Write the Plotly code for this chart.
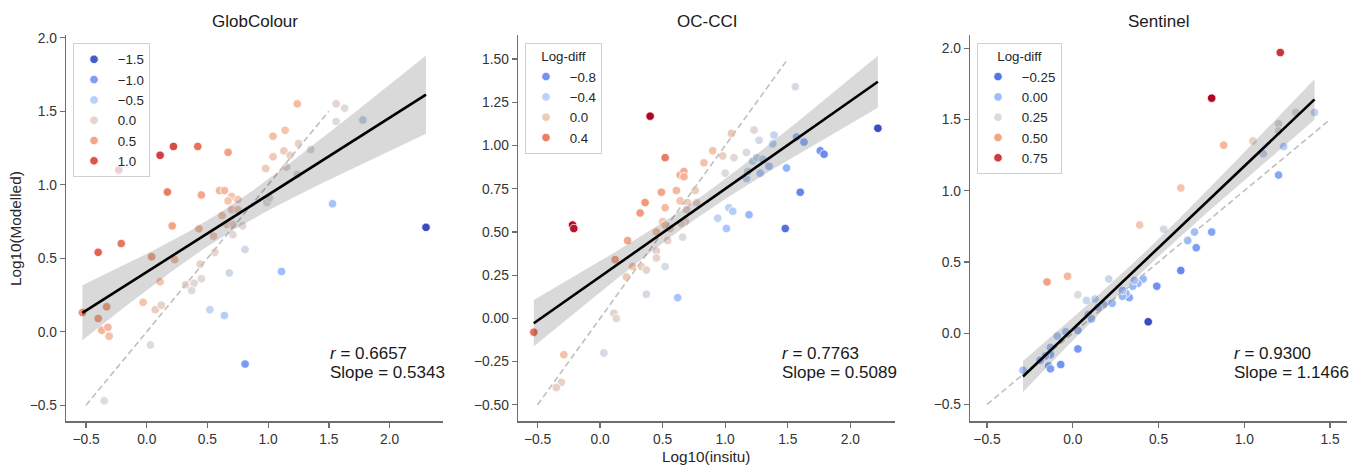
import numpy as np
import plotly.graph_objects as go
from plotly.colors import sample_colorscale

# ---------------- data (log10 values) ----------------
glob_x = [2.30, -0.23, -0.40, -0.21, 0.11, 0.22, 0.42, 0.67, 0.17, 0.45, 0.21, 0.04, 0.23, 0.11,
          -0.03, 0.07, 0.12, -0.53, -0.33, -0.40, -0.37, -0.32, -0.31, 0.03, -0.35, 0.81, 0.52,
          0.64, 0.68, 0.81, 1.11, 1.53, 1.78, 1.56, 1.63, 1.56, 1.24, 1.14, 1.04, 1.13, 1.25, 1.04,
          1.18, 1.15, 1.35, 0.98, 1.24, 0.99, 1.01, 0.60, 0.64, 0.70, 0.67, 0.75, 0.70, 0.75, 0.62,
          0.66, 0.71, 0.79, 0.71, 0.43, 0.55, 0.56, 0.44, 0.32, 0.39, 0.45, 0.37]
glob_y = [0.71, 1.10, 0.54, 0.60, 1.20, 1.26, 1.26, 1.22, 0.95, 0.93, 0.72, 0.51, 0.49, 0.34,
          0.20, 0.15, 0.18, 0.13, 0.17, 0.09, 0.01, 0.03, -0.03, -0.09, -0.47, -0.22, 0.15,
          0.11, 0.40, 0.56, 0.41, 0.87, 1.44, 1.55, 1.52, 1.43, 1.55, 1.37, 1.33, 1.23, 1.28, 1.19,
          1.20, 1.12, 1.24, 1.11, 1.07, 0.88, 0.91, 0.96, 0.96, 0.92, 0.89, 0.90, 0.83, 0.83, 0.79,
          0.73, 0.73, 0.72, 0.66, 0.70, 0.65, 0.54, 0.46, 0.32, 0.33, 0.36, 0.28]

occci_x = [2.22, 0.40, -0.22, -0.21, -0.53, -0.29, -0.31, -0.35, 0.03, 0.11, 0.13, 0.37, 0.62,
           0.52, 0.21, 0.26, 0.33, 0.37, 0.12, 0.22, 0.45, 0.45, 0.45, 0.54, 0.50, 0.52, 0.56,
           0.66, 0.68, 0.65, 0.32, 0.36, 0.49, 0.52, 0.61, 0.64, 0.70, 0.69, 0.76, 0.77, 0.64,
           0.67, 0.67, 0.52, 0.83, 0.90, 0.98, 1.05, 1.07, 1.00, 1.23, 1.56, 1.27, 1.39, 1.17,
           1.22, 1.25, 1.30, 1.17, 1.18, 1.28, 1.35, 1.38, 1.57, 1.63, 1.76, 1.79, 1.49, 1.60,
           1.48, 1.19, 1.03, 1.06, 1.01, 0.94]
occci_y = [1.10, 1.17, 0.54, 0.52, -0.08, -0.21, -0.37, -0.40, -0.20, 0.03, 0.00, 0.14, 0.12,
           0.30, 0.24, 0.30, 0.30, 0.28, 0.34, 0.45, 0.39, 0.35, 0.50, 0.45, 0.56, 0.54, 0.52,
           0.47, 0.56, 0.55, 0.61, 0.67, 0.73, 0.64, 0.74, 0.68, 0.67, 0.63, 0.74, 0.67, 0.83,
           0.85, 0.82, 0.93, 0.90, 0.97, 0.94, 1.07, 0.93, 0.84, 1.09, 1.34, 1.03, 1.06, 0.96,
           0.91, 0.93, 0.92, 0.81, 0.85, 0.84, 0.88, 1.01, 1.05, 1.02, 0.97, 0.95, 0.87, 0.73,
           0.52, 0.60, 0.64, 0.62, 0.52, 0.58]

sent_x = [1.21, 0.81, 0.88, 1.05, 0.63, 0.39, -0.15, -0.03, 0.03, 0.08, 0.13, 0.21, 0.53, 0.44,
          0.49, 0.63, 0.72, 0.67, 0.71, 0.81, 1.20, 1.23, 1.11, 1.20, 1.20, 1.30, 1.41, 0.41,
          0.38, 0.35, 0.36, 0.33, 0.31, 0.29, 0.29, 0.23, 0.18, 0.15, 0.09, 0.11, 0.03, -0.04,
          -0.09, 0.03, -0.07, -0.13, -0.13, -0.16, -0.19, -0.14, -0.13, -0.29]
sent_y = [1.97, 1.65, 1.32, 1.35, 1.02, 0.76, 0.36, 0.40, 0.27, 0.23, 0.24, 0.38, 0.73, 0.08,
          0.33, 0.44, 0.60, 0.65, 0.71, 0.71, 1.11, 1.31, 1.26, 1.47, 1.42, 1.55, 1.55, 0.38,
          0.35, 0.33, 0.37, 0.25, 0.28, 0.26, 0.30, 0.21, 0.20, 0.18, 0.13, 0.10, 0.02, 0.01,
          -0.02, -0.11, -0.22, -0.10, -0.15, -0.16, -0.19, -0.23, -0.25, -0.26]

panel_titles = ["GlobColour", "OC-CCI", "Sentinel"]
stat_r = ["0.6657", "0.7763", "0.9300"]
stat_slope = ["0.5343", "0.5089", "1.1466"]
legend_levels = [[-1.5, -1.0, -0.5, 0.0, 0.5, 1.0],
                 [-0.8, -0.4, 0.0, 0.4],
                 [-0.25, 0.00, 0.25, 0.50, 0.75]]
legend_labels = [["−1.5", "−1.0", "−0.5", "0.0", "0.5", "1.0"],
                 ["−0.8", "−0.4", "0.0", "0.4"],
                 ["−0.25", "0.00", "0.25", "0.50", "0.75"]]
legend_titles = ["", "Log-diff", "Log-diff"]
one_to_one = [-0.5, 1.5]

# ---------------- layout constants ----------------
W, H = 1367, 470
FONT = "Liberation Sans, Arial, sans-serif"
COOLWARM = [[0.0, '#3b4cc0'], [0.125, '#6282ea'], [0.25, '#8db0fe'], [0.375, '#b8d0f9'],
            [0.5, '#dddcdc'], [0.625, '#f5c4ad'], [0.75, '#f49a7b'], [0.875, '#de604d'],
            [1.0, '#b40426']]
x_dom_px = [(66, 443), (518, 895), (970, 1347)]
y_dom_px = (31, 421)
x_ranges = [[-0.665, 2.44], [-0.656, 2.357], [-0.599, 1.599]]
y_ranges = [[-0.61, 2.02], [-0.596, 1.641], [-0.619, 2.095]]
y_dtick = [0.5, 0.25, 0.5]
y_fmt = [".1f", ".2f", ".1f"]
legend_pos = [(73, 39.5), (525, 39.5), (977, 39.5)]
LEG_FONT = 13.3


def px_x(p):
    return p / W


def px_y(p):
    return 1 - p / H


fig = go.Figure()
datasets = [(glob_x, glob_y), (occci_x, occci_y), (sent_x, sent_y)]
annotations = []

for i, (xs, ys) in enumerate(datasets):
    xs = np.array(xs, dtype=float)
    ys = np.array(ys, dtype=float)
    hue = ys - xs
    hmin, hmax = hue.min(), hue.max()
    ax = "" if i == 0 else str(i + 1)
    xa, ya = "x" + ax, "y" + ax
    leg = "legend" if i == 0 else "legend" + str(i + 1)

    # scatter
    fig.add_trace(go.Scatter(
        x=xs, y=ys, mode="markers", xaxis=xa, yaxis=ya, showlegend=False,
        marker=dict(size=8.5, color=hue, colorscale=COOLWARM, cmin=hmin, cmax=hmax,
                    line=dict(color="white", width=0.8)),
        hoverinfo="skip"))
    # legend entries
    cols = sample_colorscale(COOLWARM, [float((v - hmin) / (hmax - hmin)) for v in legend_levels[i]])
    for lab, c in zip(legend_labels[i], cols):
        fig.add_trace(go.Scatter(
            x=[None], y=[None], mode="markers", xaxis=xa, yaxis=ya, name=" " + lab, legend=leg,
            marker=dict(size=8.5, color=c, line=dict(color="white", width=0.8))))
    # 1:1 line
    fig.add_trace(go.Scatter(
        x=one_to_one, y=one_to_one, mode="lines", xaxis=xa, yaxis=ya, showlegend=False,
        line=dict(color="#bfbfbf", width=1.6, dash="6px,3.5px"), hoverinfo="skip"))
    # regression + 95% CI
    n = len(xs)
    b, a = np.polyfit(xs, ys, 1)
    grid = np.linspace(xs.min(), xs.max(), 100)
    fit = a + b * grid
    resid = ys - (a + b * xs)
    s = np.sqrt(np.sum(resid ** 2) / (n - 2))
    sxx = np.sum((xs - xs.mean()) ** 2)
    tval = 1.995
    half = tval * s * np.sqrt(1.0 / n + (grid - xs.mean()) ** 2 / sxx)
    fig.add_trace(go.Scatter(
        x=np.concatenate([grid, grid[::-1]]), y=np.concatenate([fit + half, (fit - half)[::-1]]),
        mode="lines", fill="toself", fillcolor="rgba(0,0,0,0.15)", line=dict(width=0),
        xaxis=xa, yaxis=ya, showlegend=False, hoverinfo="skip"))
    fig.add_trace(go.Scatter(
        x=grid, y=fit, mode="lines", line=dict(color="black", width=2.6),
        xaxis=xa, yaxis=ya, showlegend=False, hoverinfo="skip"))

    # axes
    axis_common = dict(showline=True, linecolor="#6e6e6e", linewidth=1.3, ticks="outside",
                       ticklen=5, tickwidth=1.3, tickcolor="#6e6e6e", showgrid=False,
                       zeroline=False, tickfont=dict(family=FONT, size=13.8, color="#333333"))
    fig.layout["xaxis" + ax] = dict(
        domain=[px_x(x_dom_px[i][0]), px_x(x_dom_px[i][1])], range=x_ranges[i],
        anchor=ya, tickmode="linear", tick0=-0.5, dtick=0.5, tickformat=".1f", **axis_common)
    fig.layout["yaxis" + ax] = dict(
        domain=[px_y(y_dom_px[1]), px_y(y_dom_px[0])], range=y_ranges[i],
        anchor=xa, tickmode="linear", tick0=0, dtick=y_dtick[i], tickformat=y_fmt[i], **axis_common)

    # legend
    ldict = dict(x=px_x(legend_pos[i][0]), y=px_y(legend_pos[i][1]), xanchor="left", yanchor="top",
                 bordercolor="#d0d0d0", borderwidth=1, bgcolor="rgba(255,255,255,0.8)",
                 font=dict(family=FONT, size=LEG_FONT, color="#262626"), itemwidth=30, tracegroupgap=0)
    if legend_titles[i]:
        ldict["title"] = dict(text=legend_titles[i], side="top center",
                              font=dict(family=FONT, size=LEG_FONT, color="#262626"))
    fig.layout[leg] = ldict

    cx = (x_dom_px[i][0] + x_dom_px[i][1]) / 2
    annotations.append(dict(text=panel_titles[i], x=px_x(cx), y=px_y(18), xref="paper", yref="paper",
                            xanchor="center", yanchor="middle", showarrow=False,
                            font=dict(family=FONT, size=17, color="#1a1a1a")))
    annotations.append(dict(text="<i>r</i> = " + stat_r[i],
                            x=px_x(x_dom_px[i][0] + 262), y=px_y(352), xref="paper", yref="paper",
                            xanchor="left", yanchor="middle", align="left", showarrow=False,
                            font=dict(family=FONT, size=17, color="#1a1a1a")))
    annotations.append(dict(text="Slope = " + stat_slope[i],
                            x=px_x(x_dom_px[i][0] + 262), y=px_y(372), xref="paper", yref="paper",
                            xanchor="left", yanchor="middle", align="left", showarrow=False,
                            font=dict(family=FONT, size=17, color="#1a1a1a")))

annotations.append(dict(text="Log10(Modelled)", x=px_x(15), y=px_y(227), xref="paper", yref="paper",
                        textangle=-90, showarrow=False, xanchor="center", yanchor="middle",
                        font=dict(family=FONT, size=15.3, color="#262626")))
annotations.append(dict(text="Log10(insitu)", x=px_x(706), y=px_y(456), xref="paper", yref="paper",
                        showarrow=False, xanchor="center", yanchor="middle",
                        font=dict(family=FONT, size=15.3, color="#262626")))

fig.update_layout(width=W, height=H, margin=dict(l=0, r=0, t=0, b=0),
                  paper_bgcolor="white", plot_bgcolor="white", annotations=annotations,
                  font=dict(family=FONT))
fig.write_html("out.html", config={"displayModeBar": False, "staticPlot": True},
               post_script="document.body.style.margin='0px';")
